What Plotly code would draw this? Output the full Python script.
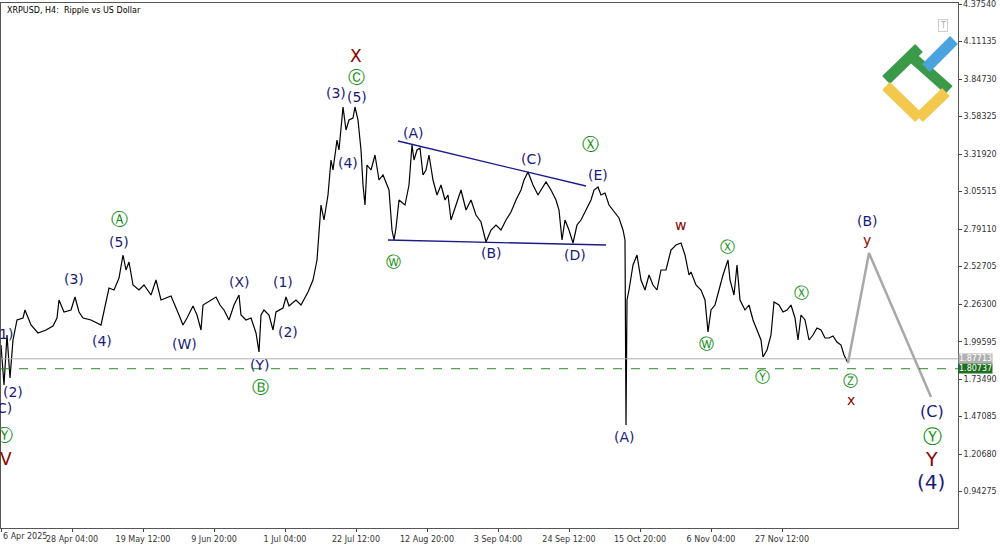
import plotly.graph_objects as go

# digitized price path: (pixel-x on the chart's time scale, pixel-y on price scale) readings converted below
path_px = [(0,345),(3,385),(6,335),(9,378),(12,340),(16,320),(22,318),(24,310),(30,325),(37,333),(45,330),(52,326),(56,318),(58,300),(63,312),(70,310),(74,297),(78,312),(82,318),(90,320),(100,325),(104,305),(108,288),(113,290),(118,278),(122,255),(125,270),(128,262),(132,285),(138,290),(143,285),(150,295),(155,280),(160,300),(170,296),(178,315),(182,325),(186,318),(192,306),(196,315),(200,330),(202,305),(210,300),(215,297),(219,305),(223,310),(228,320),(233,305),(238,295),(240,315),(245,320),(250,318),(255,333),(258,352),(260,315),(263,310),(268,315),(272,330),(275,312),(282,308),(285,297),(288,306),(295,300),(300,305),(307,292),(312,280),(316,260),(318,230),(320,205),(323,220),(327,195),(330,160),(332,170),(336,140),(338,150),(342,107),(345,130),(348,120),(352,118),(354,107),(357,120),(360,150),(362,185),(364,205),(366,165),(370,170),(374,155),(378,180),(382,175),(388,190),(391,230),(393,240),(395,228),(398,200),(404,205),(408,185),(411,145),(413,160),(416,150),(419,148),(422,175),(425,170),(428,155),(432,180),(436,195),(440,185),(444,200),(447,195),(450,220),(455,205),(460,190),(465,210),(470,200),(475,215),(480,222),(485,242),(490,230),(495,225),(500,230),(505,220),(510,212),(515,200),(520,190),(523,180),(527,172),(532,185),(537,195),(540,190),(545,182),(550,190),(555,200),(558,210),(561,240),(564,220),(568,230),(572,243),(576,225),(580,220),(585,210),(590,200),(593,190),(597,187),(600,195),(604,193),(608,205),(613,212),(618,218),(622,230),(624,240),(625,425),(626,300),(628,290),(632,265),(636,255),(640,280),(644,290),(648,275),(652,285),(656,290),(660,270),(665,270),(670,250),(675,245),(680,243),(684,255),(688,275),(690,272),(695,285),(700,290),(704,300),(707,332),(710,310),(714,305),(718,290),(722,275),(727,260),(729,280),(733,295),(736,265),(739,300),(744,310),(748,305),(752,320),(756,330),(760,340),(762,357),(766,350),(770,335),(773,302),(778,305),(782,312),(786,310),(790,305),(794,318),(797,340),(800,315),(804,320),(808,340),(812,335),(816,328),(820,330),(824,338),(828,338),(832,336),(836,342),(840,345),(843,355),(847,363)]
proj_px = [(847,363),(868,253),(930,397)]

PX_PER_DAY = 71/21.333
def to_day(x): return x/PX_PER_DAY
def to_price(y): return 4.3754 - (y-4)*0.26405/37.5

day = [to_day(p[0]) for p in path_px]
close = [to_price(p[1]) for p in path_px]
proj_day = [to_day(p[0]) for p in proj_px]
proj_price = [to_price(p[1]) for p in proj_px]

tick_prices = [4.37540,4.11135,3.84730,3.58325,3.31920,3.05515,2.79110,2.52705,2.26300,1.99595,1.73490,1.47085,1.20680,0.94275]
tick_text_x = ["6 Apr 2025","28 Apr 04:00","19 May 12:00","9 Jun 20:00","1 Jul 04:00","22 Jul 12:00","12 Aug 20:00","3 Sep 04:00","24 Sep 12:00","15 Oct 20:00","6 Nov 04:00","27 Nov 12:00"]
tick_days = [i*21.333 for i in range(len(tick_text_x))]
bid, ref_level = 1.87713, 1.80737

NAVY, GREEN, RED = "#1a1a7a", "#0a8a0a", "#8b0000"
labels = [  # (px x, px y, text, color, size)
 (5,334,"1)",NAVY,14),(12,392,"(2)",NAVY,14),(3,408,"C)",NAVY,14),(3,435,"Ⓨ",GREEN,17),(5,459,"V",RED,17),
 (73,279,"(3)",NAVY,14),(101,341,"(4)",NAVY,14),(118,219,"Ⓐ",GREEN,17),(118,242,"(5)",NAVY,14),
 (183,344,"(W)",NAVY,14),(238,282,"(X)",NAVY,14),(258,365,"(Y)",NAVY,14),(259,387,"Ⓑ",GREEN,17),
 (282,282,"(1)",NAVY,14),(287,332,"(2)",NAVY,14),(335,93,"(3)",NAVY,14),(356,97,"(5)",NAVY,14),
 (355,77,"Ⓒ",GREEN,17),(355,56,"X",RED,17),(347,163,"(4)",NAVY,14),(412,133,"(A)",NAVY,14),
 (392,262,"Ⓦ",GREEN,15),(490,253,"(B)",NAVY,14),(530,159,"(C)",NAVY,14),(574,255,"(D)",NAVY,14),
 (589,144,"Ⓧ",GREEN,17),(597,175,"(E)",NAVY,14),(623,437,"(A)",NAVY,14),(679,225,"w",RED,14),
 (726,247,"Ⓧ",GREEN,15),(705,344,"Ⓦ",GREEN,15),(761,377,"Ⓨ",GREEN,15),(800,293,"Ⓧ",GREEN,15),
 (849,381,"Ⓩ",GREEN,15),(850,400,"x",RED,14),(866,221,"(B)",NAVY,14),(866,240,"y",RED,14),
 (931,411,"(C)",NAVY,16),(931,436,"Ⓨ",GREEN,19),(930,459,"Y",RED,19),(930,482,"(4)",NAVY,20)]

fig = go.Figure()
fig.add_trace(go.Scatter(x=day, y=close, mode="lines", line=dict(color="black", width=1.2), hoverinfo="skip"))
fig.add_trace(go.Scatter(x=proj_day, y=proj_price, mode="lines", line=dict(color="#a8a8a8", width=2.5), hoverinfo="skip"))
for (a,b) in [((397,141),(585,186)),((387,240),(605,245))]:
    fig.add_trace(go.Scatter(x=[to_day(a[0]),to_day(b[0])], y=[to_price(a[1]),to_price(b[1])], mode="lines",
                             line=dict(color="#1a1a8a", width=1.3), hoverinfo="skip"))

fig.add_hline(y=bid, line=dict(color="#b0b0b0", width=1))
fig.add_hline(y=ref_level, line=dict(color="#2a8a2a", width=1, dash="dash"))

for x,y,t,c,s in labels:
    fig.add_annotation(x=to_day(x), y=to_price(y), text=t, showarrow=False,
                       font=dict(color=c, size=s, family="DejaVu Sans"))

fig.add_annotation(xref="paper", x=1, y=bid, text=f"{bid:.5f}", showarrow=False, xanchor="left",
                   bgcolor="#b0b0b0", font=dict(color="white", size=8, family="DejaVu Sans"), borderpad=0)
fig.add_annotation(xref="paper", x=1, y=ref_level, text=f"{ref_level:.5f}", showarrow=False, xanchor="left",
                   bgcolor="#1e6e1e", font=dict(color="white", size=8, family="DejaVu Sans"), borderpad=0)
# edge tick labels that Plotly would drop
fig.add_annotation(xref="paper", x=1, y=tick_prices[0], text=f"{tick_prices[0]:.5f}", showarrow=False,
                   xanchor="left", xshift=3, font=dict(color="#333", size=8, family="DejaVu Sans"))
fig.add_annotation(x=0, yref="paper", y=0, yanchor="top", xanchor="left", yshift=-2, text=tick_text_x[0],
                   showarrow=False, font=dict(color="#333", size=8, family="DejaVu Sans"))
fig.add_annotation(xref="paper", yref="paper", x=0.004, y=0.998, text="XRPUSD, H4:  Ripple vs US Dollar",
                   showarrow=False, xanchor="left", yanchor="top", font=dict(size=8, color="black", family="DejaVu Sans"))
fig.add_annotation(xref="paper", yref="paper", x=0.99, y=0.97, text="T", showarrow=False,
                   font=dict(size=8, color="#aaaaaa"), bordercolor="#cccccc", borderwidth=1)

W, H = 957, 525
def P(x, y): return x/W, 1-(y-3)/H
for (x0,y0,x1,y1,c) in [(912,58,948,90,"#3b9a49"),(925,68,953,40,"#4aa3df"),(885,80,918,48,"#3b9a49"),
                         (885,86,918,118,"#f2c94c"),(918,118,945,92,"#f2c94c")]:
    a=P(x0,y0); b=P(x1,y1)
    fig.add_shape(type="line", xref="paper", yref="paper", x0=a[0], y0=a[1], x1=b[0], y1=b[1],
                  line=dict(color=c, width=11))

fig.update_layout(width=1000, height=545, margin=dict(l=1, r=42, t=3, b=17, autoexpand=False),
                  paper_bgcolor="white", plot_bgcolor="white", showlegend=False,
                  font=dict(family="DejaVu Sans"))
fig.update_xaxes(range=[0, to_day(957)], tickvals=tick_days, ticktext=tick_text_x, showgrid=False,
                 ticks="outside", ticklen=3, tickfont=dict(size=8, color="#333"), showline=True,
                 linecolor="#555", mirror=True, zeroline=False, automargin=False)
fig.update_yaxes(range=[to_price(528), to_price(3)], side="right", tickvals=tick_prices,
                 ticktext=[f"{v:.5f}" for v in tick_prices], showgrid=False, ticks="outside", ticklen=3,
                 tickfont=dict(size=8, color="#333"), showline=True, linecolor="#555", mirror=True, zeroline=False,
                 automargin=False)
fig.write_html("out.html", config={"displayModeBar": False},
               post_script="document.body.style.margin='0';document.body.style.overflow='hidden';")
